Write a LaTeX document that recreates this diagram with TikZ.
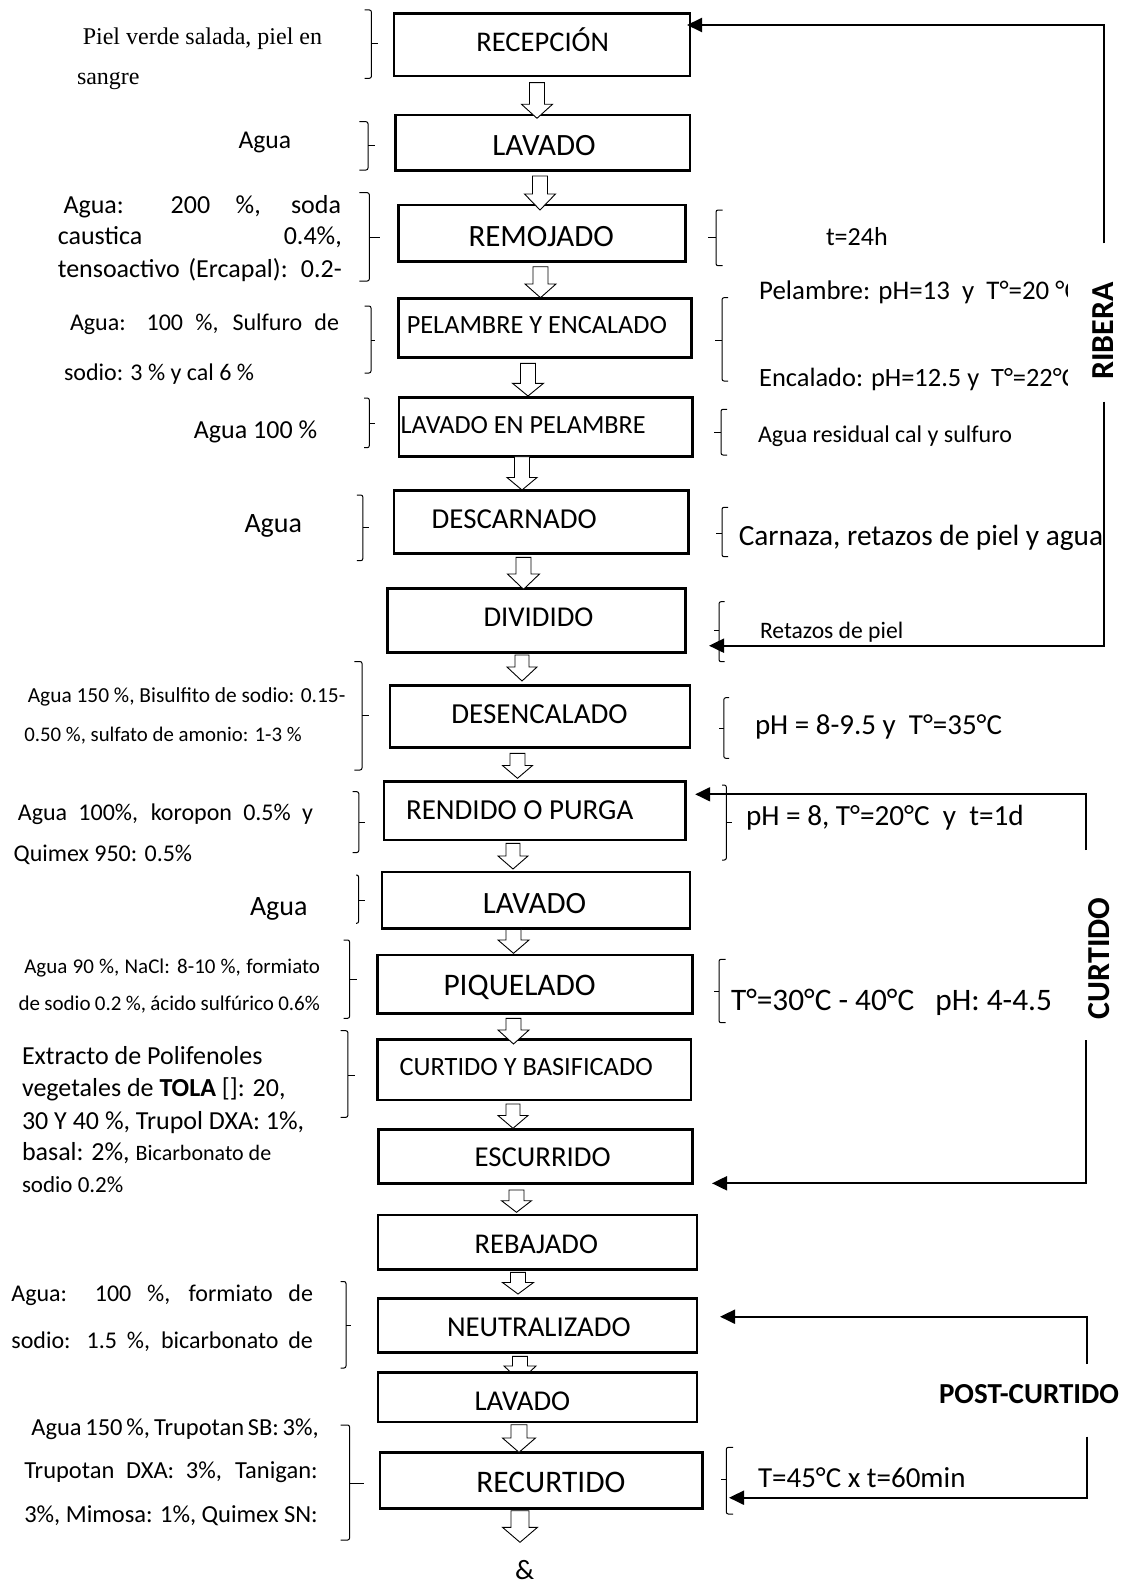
\documentclass[tikz,border=0pt]{standalone}
\usepackage{fontspec}
\setmainfont{Carlito}
\newfontfamily\timesf{Liberation Serif}
\usetikzlibrary{arrows.meta}
\newcommand{\fs}[1]{\fontsize{#1}{#1}\selectfont}
\newcommand{\pbox}[5]{\node[box, minimum width={(#4-#2)*1pt}, minimum height={(#5-#3)*1pt}] (#1) at ({(#2+#4)/2},{(#3+#5)/2}) {};}
\newcommand{\harr}[6]{\draw[holl] ({#1-#2},#4) -- ({#1+#2},#4) -- ({#1+#2},#5) -- ({#1+#3},#5) -- (#1,#6) -- ({#1-#3},#5) -- ({#1-#2},#5) -- cycle;}
\newcommand{\brk}[6]{\draw[brc] (#2,#3) -- (#1,#3) -- (#1,#4) -- (#2,#4); \draw[line width=1pt] (#1,#5) -- (#6,#5);}
\begin{document}
\begin{tikzpicture}[x=1pt,y=-1pt,
  box/.style={draw, line width=2.5pt, fill=white, inner sep=0pt, outer sep=0pt},
  txt/.style={anchor=base west, inner sep=0pt, outer sep=0pt},
  holl/.style={draw, line width=0.9pt, fill=white, line join=miter},
  fbarrow/.style={line width=2pt, -{Triangle[length=15pt,width=14pt]}},
  brc/.style={line width=1pt, rounded corners=2pt}]
\useasboundingbox (0,0) rectangle (1130,1584);
% arrow hidden under LAVADO 3
\harr{520}{7.5}{16}{1356.3}{1366}{1381}
% process boxes
\pbox{b1}{394}{13.5}{690}{76}
\pbox{b2}{395.6}{115}{690}{170.7}
\pbox{b3}{398.4}{205}{685.4}{261.7}
\pbox{b4}{398.4}{298.3}{691.6}{357.3}
\pbox{b5}{398.8}{397.5}{692.7}{456.3}
\pbox{b6}{393.8}{490.5}{688.3}{553.7}
\pbox{b7}{387.3}{588.3}{685.4}{652.7}
\pbox{b8}{389.8}{685.5}{689.8}{747.7}
\pbox{b9}{383.8}{781.7}{685.4}{840}
\pbox{b10}{382}{872}{689.8}{928.3}
\pbox{b11}{377.7}{955}{692.7}{1013.3}
\pbox{b12}{377.7}{1039.3}{690.9}{1100}
\pbox{b13}{378.4}{1129.5}{692.7}{1183.3}
\pbox{b14}{378}{1215}{697}{1269.5}
\pbox{b15}{378}{1298.3}{697}{1352.5}
\pbox{b16}{378}{1372.5}{697}{1422}
\pbox{b17}{380}{1452.5}{702.6}{1508.3}
% box titles
\node[txt] (t1) at (476.4,51.7) {\fs{28.5}RECEPCIÓN};
\node[txt] (t2) at (492.4,155.7) {\fs{31}LAVADO};
\node[txt] (t3) at (468.5,246.7) {\fs{31}REMOJADO};
\node[txt] (t4) at (406.8,333.3) {\fs{26.3}PELAMBRE Y ENCALADO};
\node[txt] (t5) at (400.7,433.3) {\fs{26.2}LAVADO EN PELAMBRE};
\node[txt] (t6) at (431.7,528.3) {\fs{28.9}DESCARNADO};
\node[txt] (t7) at (483.5,626.7) {\fs{28.7}DIVIDIDO};
\node[txt] (t8) at (451.4,723.3) {\fs{29}DESENCALADO};
\node[txt] (t9) at (406,819) {\fs{29}RENDIDO O PURGA};
\node[txt] (t10) at (482.8,913.3) {\fs{31}LAVADO};
\node[txt] (t11) at (443.5,995) {\fs{31.4}PIQUELADO};
\node[txt] (t12) at (399.6,1075) {\fs{26.4}CURTIDO Y BASIFICADO};
\node[txt] (t13) at (474.6,1166.7) {\fs{28.8}ESCURRIDO};
\node[txt] (t14) at (474.6,1253.3) {\fs{28.6}REBAJADO};
\node[txt] (t15) at (447,1336.7) {\fs{28.8}NEUTRALIZADO};
\node[txt] (t16) at (474.6,1410.7) {\fs{28.7}LAVADO};
\node[txt] (t17) at (476.4,1492.3) {\fs{31.4}RECURTIDO};
\node[txt] (t18) at (515,1579) {\fs{28}\&};
% hollow arrows
\harr{537}{7.5}{15.5}{82.7}{104.3}{118.3}
\harr{540}{7.5}{15.5}{176}{194}{210}
\harr{540.5}{7.5}{15.5}{266.7}{284}{297.7}
\harr{528}{7.5}{15.5}{363.3}{383.3}{396}
\harr{522}{7.5}{15}{456.7}{477.5}{490}
\harr{523.5}{7.5}{16}{557.3}{574}{589.3}
\harr{522}{7}{15}{655}{667}{681}
\harr{517.5}{7.5}{15}{753.3}{765.5}{778.3}
\harr{513}{7}{15}{843.3}{856}{869}
\harr{513.5}{7.5}{15.5}{929.3}{940}{953.3}
\harr{513.5}{7.5}{15.5}{1018.3}{1030}{1044}
\harr{513}{7}{15}{1104}{1115.5}{1128.3}
\harr{516.5}{7.5}{15}{1190}{1200.7}{1212.3}
\harr{518}{7.5}{15.5}{1272.3}{1282.5}{1294}
\harr{519}{8}{16.5}{1424.7}{1438}{1452.3}
\harr{520}{9}{17.5}{1510.7}{1527.3}{1542.3}
% left braces
\brk{371.4}{364.5}{10}{78.3}{43.3}{378}
\brk{368}{359.3}{121.7}{170}{145.7}{374.5}
\brk{369.3}{359.3}{192.7}{281}{237}{380}
\brk{371}{364.5}{306}{373}{340}{375}
\brk{369.3}{364}{398}{447.7}{423.3}{374.5}
\brk{362.8}{356.8}{495}{560.7}{527}{368.6}
\brk{362}{354.3}{661.5}{770}{715.5}{368.6}
\brk{358.8}{352.5}{791.7}{852.5}{822}{364.6}
\brk{358.6}{356}{875}{923.3}{900}{364.6}
\brk{349.6}{343.6}{940}{1018.3}{979}{356.8}
\brk{347.9}{340.5}{1030.7}{1117.3}{1075}{355}
\brk{346}{340.7}{1281.5}{1368}{1325.5}{351.4}
\brk{349.6}{340.7}{1425}{1540}{1483}{363.9}
% right braces
\brk{716}{722.5}{210}{265.7}{237.7}{708}
\brk{722}{728}{297.7}{381}{340}{715}
\brk{721}{727}{409.3}{455}{432.3}{714}
\brk{722}{728}{507.3}{556.7}{533.3}{715.6}
\brk{719}{724.5}{601.7}{661.7}{630}{714}
\brk{723.8}{729}{697.7}{758.3}{728.3}{719}
\brk{726.3}{722}{785}{860}{822.7}{731.5}
\brk{719}{725.5}{959.3}{1022.7}{991}{714}
\brk{726.3}{733}{1447.3}{1514}{1479.7}{721}
% left texts
\node[txt] (l1a) at (82.8,44.3) {\timesf\fs{24}Piel verde salada, piel en};
\node[txt] (l1b) at (77,85) {\timesf\fs{24}sangre};
\node[txt] (l2) at (238.5,148.3) {\fs{25.6}Agua};
\node[txt] (l3a) at (63.5,213.3) {\fs{26}\makebox[277.5pt][s]{Agua: 200 \%, soda}};
\node[txt] (l3b) at (57.8,244.3) {\fs{26}\makebox[284pt][s]{caustica 0.4\%,}};
\node[txt] (l3c) at (57.8,277.7) {\fs{26}\makebox[284pt][s]{tensoactivo (Ercapal): 0.2-}};
\node[txt] (l4a) at (70,330) {\fs{24}\makebox[269pt][s]{Agua: 100 \%, Sulfuro de}};
\node[txt] (l4b) at (64,380) {\fs{24}sodio: 3 \% y cal 6 \%};
\node[txt] (l5) at (193.9,438.3) {\fs{26}Agua 100 \%};
\node[txt] (l6) at (244.5,532.7) {\fs{28}Agua};
\node[txt] (l7a) at (27.8,702.7) {\fs{21.4}Agua 150 \%, Bisulfito de sodio: 0.15-};
\node[txt] (l7b) at (24.3,741) {\fs{20.8}0.50 \%, sulfato de amonio: 1-3 \%};
\node[txt] (l8a) at (17.9,820) {\fs{24}\makebox[295pt][s]{Agua 100\%, koropon 0.5\% y}};
\node[txt] (l8b) at (13.6,861.7) {\fs{24}Quimex 950: 0.5\%};
\node[txt] (l9) at (250,915) {\fs{28}Agua};
\node[txt] (l10a) at (24.3,973.3) {\fs{21}\makebox[295.7pt][s]{Agua 90 \%, NaCl: 8-10 \%, formiato}};
\node[txt] (l10b) at (18.6,1010) {\fs{21}\makebox[301.4pt][s]{de sodio 0.2 \%, ácido sulfúrico 0.6\%}};
\node[txt] (l11a) at (22,1064) {\fs{26}Extracto de Polifenoles};
\node[txt] (l11b) at (22,1096.5) {\fs{26}vegetales de \textbf{TOLA} []: 20,};
\node[txt] (l11c) at (22,1129) {\fs{26}30 Y 40 \%, Trupol DXA: 1\%,};
\node[txt] (l11d) at (22,1160.5) {\fs{26}basal: 2\%, {\fs{22}Bicarbonato de}};
\node[txt] (l11e) at (22,1192) {\fs{23}sodio 0.2\%};
\node[txt] (l12a) at (11.4,1301.7) {\fs{24}\makebox[301.6pt][s]{Agua: 100 \%, formiato de}};
\node[txt] (l12b) at (11.4,1348.3) {\fs{24}\makebox[301.6pt][s]{sodio: 1.5 \%, bicarbonato de}};
\node[txt] (l13a) at (31.4,1435) {\fs{24.5}\makebox[286.3pt][s]{Agua 150 \%, Trupotan SB: 3\%,}};
\node[txt] (l13b) at (24.3,1478.3) {\fs{24.5}\makebox[293.4pt][s]{Trupotan DXA: 3\%, Tanigan:}};
\node[txt] (l13c) at (24.3,1522.7) {\fs{24.5}\makebox[293.4pt][s]{3\%, Mimosa: 1\%, Quimex SN:}};
% right texts
\node[txt] (r3) at (826,245) {\fs{26}t=24h};
\begin{scope}
\clip (740,270) rectangle (1067,400);
\node[txt] (r4a) at (759.2,299) {\fs{26.9}Pelambre: pH=13\ \ y\ \ T°=20 °C};
\node[txt] (r4b) at (759.2,386.7) {\fs{26.4}Encalado: pH=12.5 y\ \ T°=22°C};
\end{scope}
\node[txt] (r5) at (758,442.7) {\fs{24}Agua residual cal y sulfuro};
\node[txt] (r6) at (738.8,545) {\fs{29.3}Carnaza, retazos de piel y agua};
\node[txt] (r7) at (760,638.3) {\fs{23.6}Retazos de piel};
\node[txt] (r8) at (755,734.3) {\fs{29}pH = 8-9.5 y\ \ T°=35°C};
\node[txt] (r9) at (746,825) {\fs{29.2}pH = 8, T°=20°C\ \ y\ \ t=1d};
\node[txt] (r11) at (731,1010) {\fs{31.3}T°=30°C - 40°C\ \ \ pH: 4-4.5};
\node[txt] (r17) at (758,1487.3) {\fs{29}T=45°C x t=60min};
% stage labels
\node[rotate=90, inner sep=0pt] (ribera) at (1103,331) {\bfseries\fs{32}RIBERA};
\node[rotate=90, inner sep=0pt] (curtido) at (1099,958.3) {\bfseries\fs{32}CURTIDO};
\node[txt] (post) at (939,1403.3) {\bfseries\fs{29}POST-CURTIDO};
% feedback connectors
\coordinate (c1a) at (1104,243.3);
\coordinate (c1b) at (1104,401.7);
\coordinate (k1a) at (687,25);
\coordinate (k1b) at (709,645.7);
\coordinate (c2a) at (1086,850);
\coordinate (c2b) at (1086,1040);
\coordinate (k2a) at (695.2,794.3);
\coordinate (k2b) at (712,1183.3);
\coordinate (c3a) at (1087,1364);
\coordinate (c3b) at (1087,1436.7);
\coordinate (k3a) at (720,1316.7);
\coordinate (k3b) at (729,1497.7);
\draw[fbarrow] (c1a) |- (k1a);
\draw[fbarrow] (c1b) |- (k1b);
\draw[fbarrow] (c2a) |- (k2a);
\draw[fbarrow] (c2b) |- (k2b);
\draw[fbarrow] (c3a) |- (k3a);
\draw[fbarrow] (c3b) |- (k3b);
\end{tikzpicture}
\end{document}
